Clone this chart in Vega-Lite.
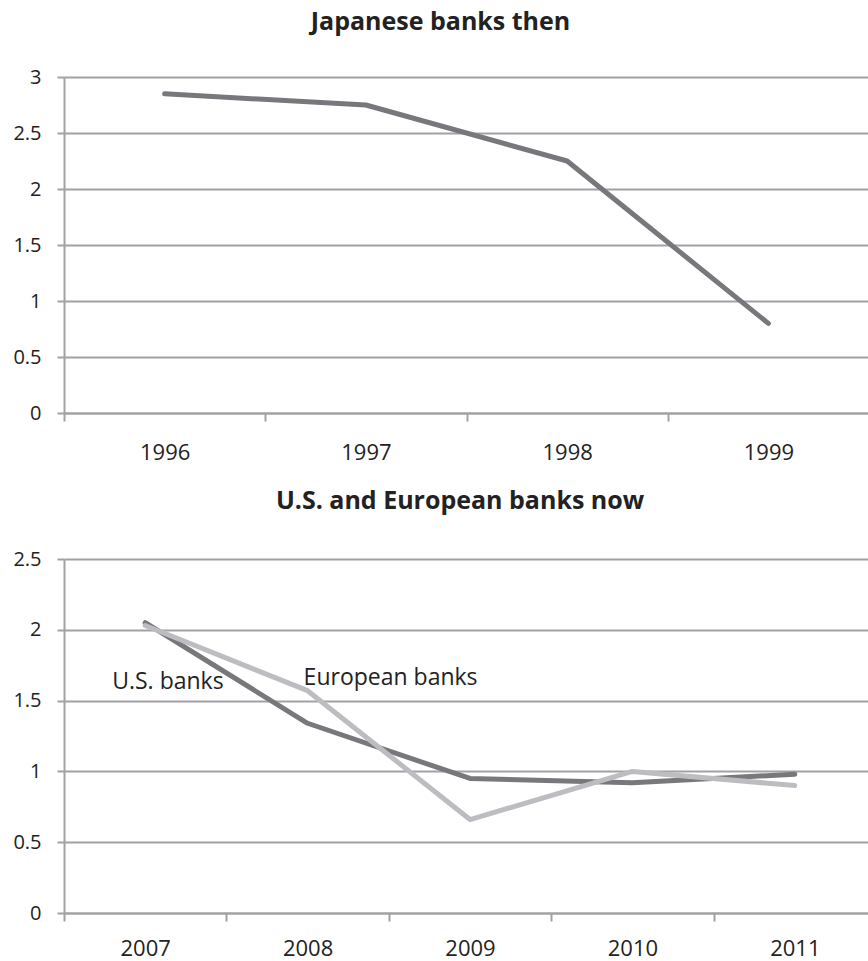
{
  "$schema": "https://vega.github.io/schema/vega-lite/v6.json",
  "padding": {"left": 12, "top": 10, "right": 0, "bottom": 0},
  "background": "white",
  "spacing": 146,
  "bounds": "flush",
  "config": {
    "font": "Open Sans",
    "view": {"stroke": null},
    "axis": {
      "labelFont": "Open Sans",
      "labelFontSize": 20,
      "labelColor": "#222222",
      "domainColor": "#a2a2a6",
      "domainWidth": 2,
      "tickColor": "#a2a2a6",
      "tickWidth": 2,
      "gridColor": "#a2a2a6",
      "gridWidth": 2,
      "title": null
    },
    "title": {"font": "Open Sans", "fontWeight": "bold", "fontSize": 25, "color": "#222222", "anchor": "middle"}
  },
  "datasets": {
    "japan": [
      {"year": "1996", "value": 2.85},
      {"year": "1997", "value": 2.75},
      {"year": "1998", "value": 2.25},
      {"year": "1999", "value": 0.8}
    ],
    "now": [
      {"year": "2007", "series": "U.S. banks", "value": 2.05},
      {"year": "2008", "series": "U.S. banks", "value": 1.34},
      {"year": "2009", "series": "U.S. banks", "value": 0.95},
      {"year": "2010", "series": "U.S. banks", "value": 0.92},
      {"year": "2011", "series": "U.S. banks", "value": 0.98},
      {"year": "2007", "series": "European banks", "value": 2.03},
      {"year": "2008", "series": "European banks", "value": 1.57},
      {"year": "2009", "series": "European banks", "value": 0.66},
      {"year": "2010", "series": "European banks", "value": 1.0},
      {"year": "2011", "series": "European banks", "value": 0.9}
    ],
    "labelUS": [{"year": "2007", "value": 1.58, "text": "U.S. banks"}],
    "labelEU": [{"year": "2008", "value": 1.61, "text": "European banks"}]
  },
  "vconcat": [
    {
      "title": {"text": "Japanese banks then", "offset": 32, "dx": -26},
      "width": 805,
      "height": 336,
      "data": {"name": "japan"},
      "mark": {"type": "line", "color": "#78787c", "strokeWidth": 5, "strokeCap": "round", "strokeJoin": "round"},
      "encoding": {
        "x": {
          "field": "year", "type": "nominal", "sort": null,
          "scale": {"paddingInner": 0, "paddingOuter": 0},
          "axis": {"labelAngle": 0, "labelFontSize": 22, "tickBand": "extent", "tickSize": 8, "labelPadding": 21, "domain": true, "grid": false}
        },
        "y": {
          "field": "value", "type": "quantitative",
          "scale": {"domain": [0, 3], "nice": false},
          "axis": {"values": [0, 0.5, 1, 1.5, 2, 2.5, 3], "format": "~g", "tickSize": 7, "labelPadding": 16, "grid": true}
        }
      }
    },
    {
      "title": {"text": "U.S. and European banks now", "offset": 35, "dx": -10},
      "width": 812,
      "height": 354,
      "layer": [
        {
          "data": {"name": "now"},
          "mark": {"type": "line", "strokeWidth": 5, "strokeCap": "round", "strokeJoin": "round"},
          "encoding": {
            "x": {
              "field": "year", "type": "nominal", "sort": null,
              "scale": {"paddingInner": 0, "paddingOuter": 0},
              "axis": {"labelAngle": 0, "labelFontSize": 22, "tickBand": "extent", "tickSize": 8, "labelPadding": 17, "domain": true, "grid": false}
            },
            "y": {
              "field": "value", "type": "quantitative",
              "scale": {"domain": [0, 2.5], "nice": false},
              "axis": {"values": [0, 0.5, 1, 1.5, 2, 2.5], "format": "~g", "tickSize": 7, "labelPadding": 16, "grid": true}
            },
            "color": {
              "field": "series", "type": "nominal",
              "scale": {"domain": ["U.S. banks", "European banks"], "range": ["#78787c", "#bdbdc1"]},
              "legend": null
            },
            "order": {"value": 0}
          }
        },
        {
          "data": {"name": "labelUS"},
          "mark": {"type": "text", "align": "left", "baseline": "alphabetic", "dx": -33, "fontSize": 23, "color": "#222222", "font": "Open Sans"},
          "encoding": {
            "x": {"field": "year", "type": "nominal"},
            "y": {"field": "value", "type": "quantitative"},
            "text": {"field": "text"}
          }
        },
        {
          "data": {"name": "labelEU"},
          "mark": {"type": "text", "align": "left", "baseline": "alphabetic", "dx": -4, "fontSize": 23, "color": "#222222", "font": "Open Sans"},
          "encoding": {
            "x": {"field": "year", "type": "nominal"},
            "y": {"field": "value", "type": "quantitative"},
            "text": {"field": "text"}
          }
        }
      ]
    }
  ]
}
